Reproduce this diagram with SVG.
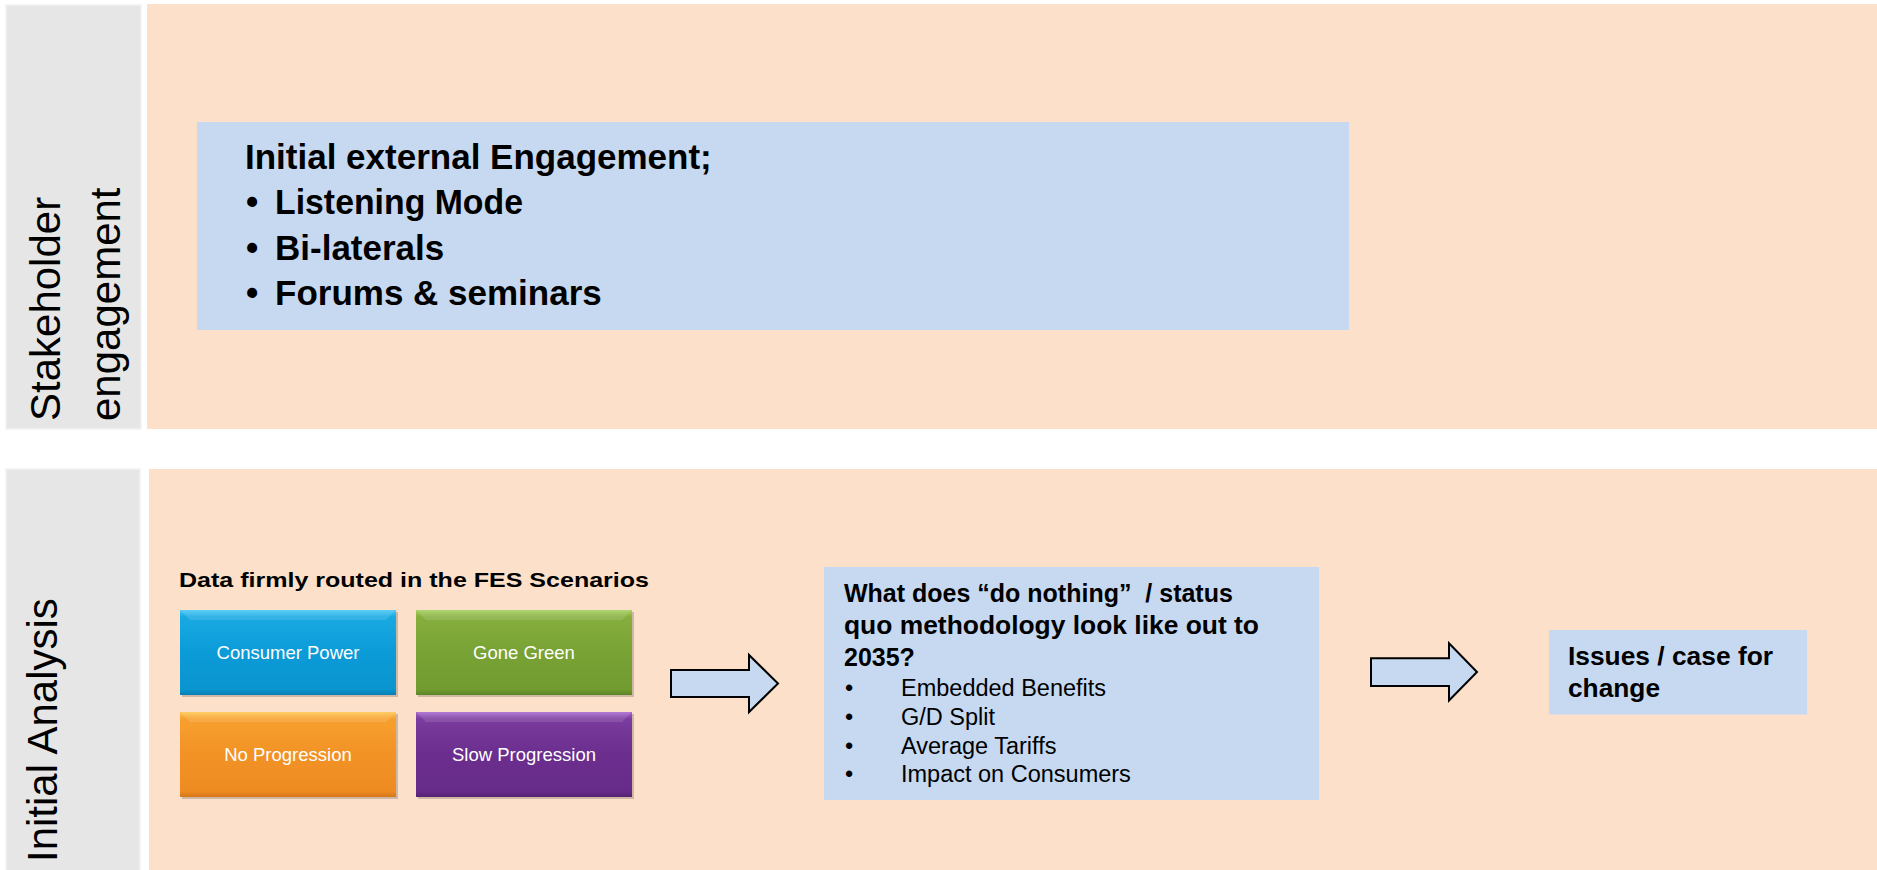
<svg xmlns="http://www.w3.org/2000/svg" width="1877" height="870" viewBox="0 0 1877 870">
  <style>
    .lane { fill: #E6E6E6; stroke: #F2F2F2; stroke-width: 1.5; }
    .band { fill: #FCE0CA; }
    .box { fill: #C6D9F1; }
    .lab { font-family: "Liberation Sans", Arial, sans-serif; font-size: 42px; fill: #000; }
    .b35 { font-family: "Liberation Sans", Arial, sans-serif; font-size: 35px; font-weight: bold; fill: #000; }
    .b23 { font-family: "Liberation Sans", Arial, sans-serif; font-size: 25px; font-weight: bold; fill: #000; }
    .r20 { font-family: "Liberation Sans", Arial, sans-serif; font-size: 23.5px; fill: #000; }
    .b25 { font-family: "Liberation Sans", Arial, sans-serif; font-size: 25px; font-weight: bold; fill: #000; }
    .b21 { font-family: "Liberation Sans", Arial, sans-serif; font-size: 21px; font-weight: bold; fill: #000; }
    .sc { font-family: "Liberation Sans", Arial, sans-serif; font-size: 18.5px; fill: #FFFFFF; text-anchor: middle; }
    .arrow { fill: #C6D9F1; stroke: #000; stroke-width: 2; stroke-linejoin: miter; }
    .shadow { fill: #000; opacity: 0.18; }
  </style>
  <defs>
    <linearGradient id="gBlue" x1="0" y1="0" x2="0" y2="1">
      <stop offset="0" stop-color="#45C8F5"/>
      <stop offset="0.08" stop-color="#19A9E2"/>
      <stop offset="0.5" stop-color="#0B9BD7"/>
      <stop offset="0.93" stop-color="#0A95CF"/>
      <stop offset="1" stop-color="#0880B5"/>
    </linearGradient>
    <linearGradient id="gGreen" x1="0" y1="0" x2="0" y2="1">
      <stop offset="0" stop-color="#A4D05A"/>
      <stop offset="0.08" stop-color="#86AF3E"/>
      <stop offset="0.5" stop-color="#78A234"/>
      <stop offset="0.93" stop-color="#729C30"/>
      <stop offset="1" stop-color="#5F8527"/>
    </linearGradient>
    <linearGradient id="gOrange" x1="0" y1="0" x2="0" y2="1">
      <stop offset="0" stop-color="#FFC74E"/>
      <stop offset="0.08" stop-color="#F7A02E"/>
      <stop offset="0.5" stop-color="#F29225"/>
      <stop offset="0.93" stop-color="#EE8C22"/>
      <stop offset="1" stop-color="#D7771A"/>
    </linearGradient>
    <linearGradient id="gPurple" x1="0" y1="0" x2="0" y2="1">
      <stop offset="0" stop-color="#A867CF"/>
      <stop offset="0.08" stop-color="#7A3C9E"/>
      <stop offset="0.5" stop-color="#6B2E8E"/>
      <stop offset="0.93" stop-color="#672B89"/>
      <stop offset="1" stop-color="#552273"/>
    </linearGradient>
  </defs>

  <rect x="0" y="0" width="1877" height="870" fill="#FFFFFF"/>

  <!-- Lane 1 -->
  <g id="lane-stakeholder">
    <rect class="lane" x="6" y="5" width="135" height="424"/>
    <rect class="band" x="147" y="4" width="1730" height="425"/>
    <text class="lab" transform="translate(60,421) rotate(-90)">Stakeholder</text>
    <text class="lab" transform="translate(120,421) rotate(-90)">engagement</text>
  </g>

  <!-- Lane 2 -->
  <g id="lane-analysis">
    <rect class="lane" x="6" y="469" width="134" height="405"/>
    <rect class="band" x="149" y="469" width="1728" height="401"/>
    <text class="lab" transform="translate(57,862) rotate(-90)">Initial Analysis</text>
  </g>

  <!-- Engagement box -->
  <g id="node-engagement">
    <rect class="box" x="197" y="122" width="1152" height="208"/>
    <text class="b35" x="245" y="169">Initial external Engagement;</text>
    <text class="b35" x="246" y="214">•</text>
    <text class="b35" x="275" y="214" textLength="248" lengthAdjust="spacingAndGlyphs">Listening Mode</text>
    <text class="b35" x="246" y="259.5">•</text>
    <text class="b35" x="275" y="259.5">Bi-laterals</text>
    <text class="b35" x="246" y="304.5">•</text>
    <text class="b35" x="275" y="304.5">Forums &amp; seminars</text>
  </g>

  <!-- FES scenarios -->
  <g id="node-scenarios">
    <text class="b21" x="179" y="587" textLength="470" lengthAdjust="spacingAndGlyphs">Data firmly routed in the FES Scenarios</text>
    <g id="scenario-consumer-power">
      <rect class="shadow" x="182" y="612" width="216" height="85"/>
      <rect x="180" y="610" width="216" height="85" fill="url(#gBlue)"/>
      <polygon points="180,610 396,610 386,620 190,620" fill="#FFFFFF" opacity="0.12"/>
      <text class="sc" x="288" y="659.3">Consumer Power</text>
    </g>
    <g id="scenario-gone-green">
      <rect class="shadow" x="418" y="612" width="216" height="85"/>
      <rect x="416" y="610" width="216" height="85" fill="url(#gGreen)"/>
      <polygon points="416,610 632,610 622,620 426,620" fill="#FFFFFF" opacity="0.12"/>
      <text class="sc" x="524" y="659.3">Gone Green</text>
    </g>
    <g id="scenario-no-progression">
      <rect class="shadow" x="182" y="714" width="216" height="85"/>
      <rect x="180" y="712" width="216" height="85" fill="url(#gOrange)"/>
      <polygon points="180,712 396,712 386,722 190,722" fill="#FFFFFF" opacity="0.12"/>
      <text class="sc" x="288" y="760.7">No Progression</text>
    </g>
    <g id="scenario-slow-progression">
      <rect class="shadow" x="418" y="714" width="216" height="85"/>
      <rect x="416" y="712" width="216" height="85" fill="url(#gPurple)"/>
      <polygon points="416,712 632,712 622,722 426,722" fill="#FFFFFF" opacity="0.12"/>
      <text class="sc" x="524" y="760.7">Slow Progression</text>
    </g>
  </g>

  <!-- Status quo box -->
  <g id="node-status-quo">
    <rect class="box" x="824" y="567" width="495" height="233"/>
    <text class="b23" x="844" y="602" xml:space="preserve">What does “do nothing”  / status</text>
    <text class="b23" x="844" y="634" textLength="415" lengthAdjust="spacingAndGlyphs">quo methodology look like out to</text>
    <text class="b23" x="844" y="666">2035?</text>
    <text class="r20" x="845" y="696">•</text>
    <text class="r20" x="901" y="696">Embedded Benefits</text>
    <text class="r20" x="845" y="725">•</text>
    <text class="r20" x="901" y="725">G/D Split</text>
    <text class="r20" x="845" y="753.5">•</text>
    <text class="r20" x="901" y="753.5">Average Tariffs</text>
    <text class="r20" x="845" y="782">•</text>
    <text class="r20" x="901" y="782">Impact on Consumers</text>
  </g>

  <!-- Issues box -->
  <g id="node-issues">
    <rect class="box" x="1549" y="630" width="258" height="84.5"/>
    <text class="b25" x="1568" y="665" textLength="205" lengthAdjust="spacingAndGlyphs">Issues / case for</text>
    <text class="b25" x="1568" y="696.5" textLength="92" lengthAdjust="spacingAndGlyphs">change</text>
  </g>

  <!-- Connectors -->
  <g id="connectors">
    <polygon class="arrow" points="671,670 749,670 749,655 778,683.5 749,712 749,697 671,697"/>
    <polygon class="arrow" points="1371,658.3 1449,658.3 1449,643.3 1477,672 1449,700.5 1449,686 1371,686"/>
  </g>
</svg>
